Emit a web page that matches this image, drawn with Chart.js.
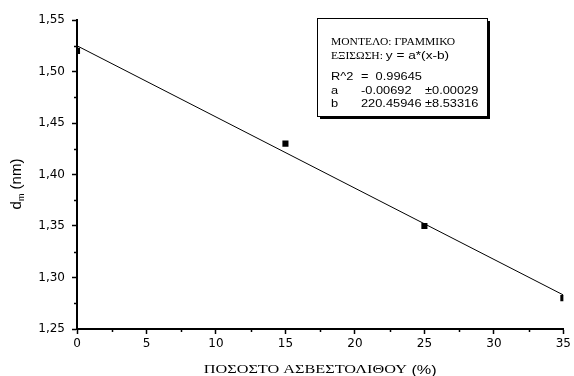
<!DOCTYPE html>
<html>
<head>
<meta charset="utf-8">
<script src="https://cdn.jsdelivr.net/npm/chart.js@4/dist/chart.umd.min.js"></script>
<style>
  html, body { margin: 0; padding: 0; background: #fff; }
</style>
</head>
<body>
<canvas id="c" width="574" height="376"></canvas>
<script>
// measured points (x = % limestone, y = d_m in nm)
const pointsX = [0, 15, 25, 35];
const pointsY = [1.52, 1.43, 1.35, 1.28];
// fitted line, read at the two ends of the x range
const fitX = [0, 35];
const fitY = [1.525, 1.283];

const xTitle = 'ΠΟΣΟΣΤΟ ΑΣΒΕΣΤΟΛΙΘΟΥ';
const xTitleUnit = ' (%)';
const boxLines = ['ΜΟΝΤΕΛΟ: ΓΡΑΜΜΙΚΟ', 'ΕΞΙΣΩΣΗ: '];
const boxEq = 'y = a*(x-b)';
const boxRows = [
  ['R^2', '=  0.99645', ''],
  ['a', '-0.00692', '±0.00029'],
  ['b', '220.45946', '±8.53316']
];

const SANS = '"Liberation Sans", Arial, sans-serif';
const SERIF = '"Liberation Serif", "Times New Roman", serif';

// the source figure has wide, slightly stretched lettering
function wideText(ctx, text, x, y, sx) {
  ctx.save();
  ctx.translate(x, y);
  ctx.scale(sx, 1);
  ctx.fillText(text, 0, 0);
  ctx.restore();
  return ctx.measureText(text).width * sx;
}

// minor ticks, titles and the fit parameter box
const extras = {
  id: 'extras',
  afterDraw(chart) {
    const ctx = chart.ctx;
    const xs = chart.scales.x, ys = chart.scales.y;
    ctx.save();
    ctx.strokeStyle = '#000';
    ctx.lineWidth = 1.5;
    // minor ticks
    for (let v = 2.5; v < 35; v += 5) {
      const px = Math.round(xs.getPixelForValue(v)) + 0.5;
      ctx.beginPath(); ctx.moveTo(px, xs.top); ctx.lineTo(px, xs.top + 3); ctx.stroke();
    }
    for (let v = 1.275; v < 1.55; v += 0.05) {
      const py = Math.round(ys.getPixelForValue(v)) + 0.5;
      ctx.beginPath(); ctx.moveTo(ys.right, py); ctx.lineTo(ys.right - 3, py); ctx.stroke();
    }

    // x title: serif greek + sans unit
    ctx.fillStyle = '#000';
    ctx.textBaseline = 'middle';
    ctx.textAlign = 'left';
    const st = 1.25;
    ctx.font = '13px ' + SERIF;
    const w1 = ctx.measureText(xTitle).width * st;
    ctx.font = '13px ' + SANS;
    const w2 = ctx.measureText(xTitleUnit).width * st;
    const x0 = (chart.chartArea.left + chart.chartArea.right) / 2 - (w1 + w2) / 2;
    ctx.font = '13px ' + SERIF;
    wideText(ctx, xTitle, x0, 370, st);
    ctx.font = '13px ' + SANS;
    wideText(ctx, xTitleUnit, x0 + w1, 370, st);

    // y title d_m (nm), rotated
    ctx.save();
    ctx.translate(17, 184);
    ctx.rotate(-Math.PI / 2);
    ctx.font = '15px ' + SANS;
    const wd = ctx.measureText('d').width;
    const wn = ctx.measureText(' (nm)').width;
    ctx.font = '9px ' + SANS;
    const wm = ctx.measureText('m').width;
    const sx = -(wd + wm + wn) / 2;
    ctx.font = '15px ' + SANS;
    ctx.fillText('d', sx, 0);
    ctx.font = '9px ' + SANS;
    ctx.fillText('m', sx + wd, 5);
    ctx.font = '15px ' + SANS;
    ctx.fillText(' (nm)', sx + wd + wm, 0);
    ctx.restore();

    // parameter box with shadow
    const bx = 317, by = 18, bw = 170, bh = 98;
    ctx.fillStyle = '#000';
    ctx.fillRect(bx + 3, by + 3, bw, bh);
    ctx.fillStyle = '#fff';
    ctx.fillRect(bx, by, bw, bh);
    ctx.lineWidth = 1;
    ctx.strokeStyle = '#000';
    ctx.strokeRect(bx + 0.5, by + 0.5, bw, bh);

    ctx.fillStyle = '#000';
    ctx.font = '10.5px ' + SERIF;
    wideText(ctx, boxLines[0], 331, 42, 1.1);
    const we = wideText(ctx, boxLines[1], 331, 56, 1.1);
    ctx.font = '10.5px ' + SANS;
    wideText(ctx, boxEq, 331 + we, 56, 1.3);
    const rowY = [77, 91, 104];
    boxRows.forEach((r, i) => {
      wideText(ctx, r[0], 331, rowY[i], 1.22);
      wideText(ctx, r[1], 361, rowY[i], 1.22);
      if (r[2]) wideText(ctx, r[2], 425, rowY[i], 1.22);
    });
    ctx.restore();
  }
};

new Chart(document.getElementById('c'), {
  type: 'scatter',
  data: {
    datasets: [
      {
        data: fitX.map((x, i) => ({ x: x, y: fitY[i] })),
        showLine: true,
        borderColor: '#000',
        borderWidth: 1,
        pointRadius: 0,
        clip: 0
      },
      {
        data: pointsX.map((x, i) => ({ x: x, y: pointsY[i] })),
        pointStyle: 'rect',
        pointRadius: 4.3,
        backgroundColor: '#000',
        borderColor: '#000',
        borderWidth: 0,
        clip: 0
      }
    ]
  },
  options: {
    responsive: false,
    animation: false,
    devicePixelRatio: 1,
    layout: { padding: { top: 20, right: 7, left: 0, bottom: 0 } },
    plugins: { legend: { display: false }, tooltip: { enabled: false } },
    scales: {
      x: {
        type: 'linear',
        min: 0, max: 35,
        afterFit(s) { s.height = 47; },
        border: { display: true, color: '#000', width: 2 },
        grid: { drawOnChartArea: false, drawTicks: true, tickLength: 5, color: '#000', tickWidth: 1.5 },
        ticks: {
          stepSize: 5,
          padding: 3,
          color: '#000',
          maxRotation: 0,
          font: { family: 'DejaVu Sans', size: 12 }
        }
      },
      y: {
        type: 'linear',
        min: 1.25, max: 1.55,
        afterFit(s) { s.width = 77; },
        border: { display: true, color: '#000', width: 2 },
        grid: { drawOnChartArea: false, drawTicks: true, tickLength: 5, color: '#000', tickWidth: 1.5 },
        ticks: {
          stepSize: 0.05,
          padding: 7,
          color: '#000',
          font: { family: 'DejaVu Sans', size: 12 },
          callback: (v) => v.toFixed(2).replace('.', ',')
        }
      }
    }
  },
  plugins: [extras]
});
</script>
</body>
</html>
